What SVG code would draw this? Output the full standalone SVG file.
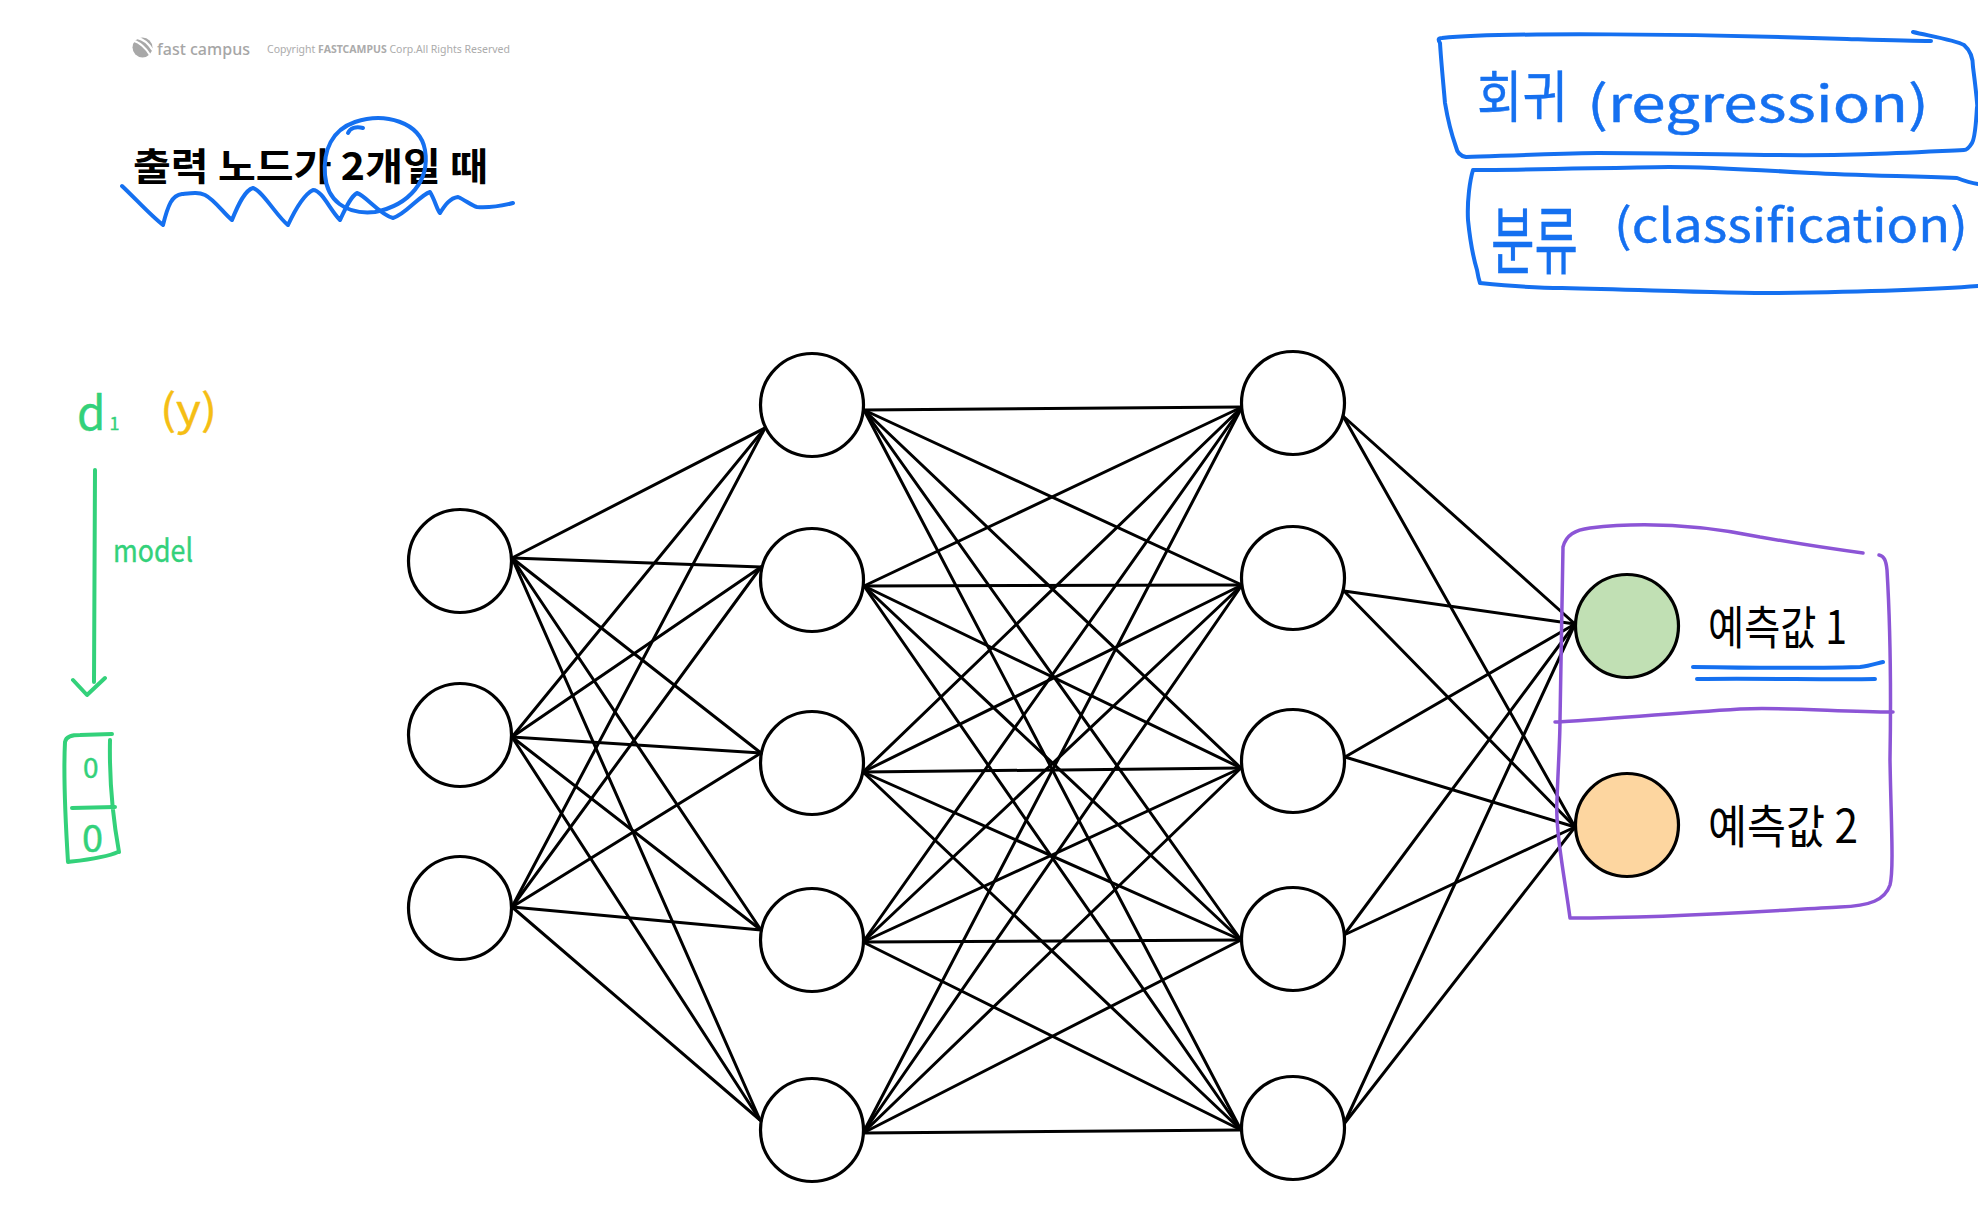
<svg xmlns="http://www.w3.org/2000/svg" width="1978" height="1220" viewBox="0 0 1978 1220">
<style>
.node{fill:#fff;stroke:#000;stroke-width:3.2}
.conn line{stroke:#000;stroke-width:3;stroke-linecap:round}
.hand{font-family:"Noto Sans CJK KR","Noto Sans",sans-serif;font-weight:400;stroke-width:0.4;stroke-linejoin:round}
.blue{fill:none;stroke:#1570f0;stroke-width:4;stroke-linecap:round;stroke-linejoin:round}
.purple{fill:none;stroke:#8c55d6;stroke-width:3.5;stroke-linecap:round;stroke-linejoin:round}
.green{fill:none;stroke:#33d17a;stroke-width:4;stroke-linecap:round;stroke-linejoin:round}
</style>
<rect width="1978" height="1220" fill="#fff"/>

<!-- header -->
<g id="logo">
  <circle cx="142.5" cy="47.5" r="10" fill="#a8a8a8"/>
  <path d="M134 41 C139 42,146 48,150 55" stroke="#fff" stroke-width="2.2" fill="none"/>
  <path d="M137 37.8 C143 39,149 44,152.5 50" stroke="#fff" stroke-width="2.2" fill="none"/>
  <text x="157" y="55" font-family="Noto Sans, sans-serif" font-size="17" font-weight="500" fill="#a6a6a6" textLength="93" lengthAdjust="spacingAndGlyphs">fast campus</text>
  <text x="267" y="53" font-family="Noto Sans, sans-serif" font-size="10.5" fill="#ababab" textLength="243" lengthAdjust="spacingAndGlyphs">Copyright <tspan font-weight="700">FASTCAMPUS</tspan> Corp.All Rights Reserved</text>
</g>

<g id="title">
  <text x="133" y="180" font-family="Noto Sans CJK KR, sans-serif" font-size="38" font-weight="700" fill="#000" textLength="355" lengthAdjust="spacingAndGlyphs">출력 노드가 2개일 때</text>
  <path class="blue" d="M122 186 C135 198,150 215,163 225 C168 205,172 195,182 194 C192 193,198 192,205 195 C215 200,225 215,232 220 C238 205,245 190,253 188 C262 190,278 218,288 225 C295 210,303 195,313 190 C322 190,330 210,340 220 C345 210,350 197,357 193 C365 195,380 215,393 218 C405 215,420 195,430 192 C435 200,437 210,440 213 C445 205,450 198,458 197 C465 200,472 206,477 207 C490 208,505 205,513 203"/>
  <path class="blue" d="M348 133 C350 128,356 126,363 128 M355 122 C385 112,420 122,425 150 C430 180,410 205,375 212 C345 215,327 200,325 175 C323 150,332 130,355 122"/>
</g>

<!-- top-right boxes -->
<g id="regression">
  <path class="blue" d="M1440 43 C1438 40,1438 38,1442 38 C1500 32,1700 34,1847 39 C1880 40,1910 41,1931 41 M1913 32 C1930 36,1955 40,1964 45 C1972 52,1973 60,1973 67 C1976 90,1978 110,1977 107 C1976 125,1975 138,1972 143 C1969 148,1966 150,1964 150 C1900 153,1850 156,1776 155 C1700 154,1650 153,1598 153 C1540 154,1500 156,1466 157 C1460 156,1457 152,1456 147 C1450 130,1447 115,1445 103 C1443 80,1441 60,1440 43"/>
  <text class="hand" x="1477" y="117" font-size="56" fill="#1570f0" stroke="#1570f0" textLength="91" lengthAdjust="spacingAndGlyphs">회귀</text>
  <text class="hand" x="1587" y="122" font-size="50" fill="#1570f0" stroke="#1570f0" textLength="342" lengthAdjust="spacingAndGlyphs">(regression)</text>
</g>
<g id="classification">
  <path class="blue" d="M1978 184 C1970 183,1962 180,1957 178 C1900 176,1850 175,1811 173 C1760 170,1700 167,1669 167 C1600 168,1520 170,1473 170 C1470 180,1467 200,1468 220 C1470 240,1474 260,1477 270 C1478 276,1479 280,1480 283 C1510 286,1540 288,1562 288 C1650 290,1720 293,1776 293 C1850 292,1930 290,1978 286"/>
  <text class="hand" x="1491" y="268" font-size="74" fill="#1570f0" stroke="#1570f0" textLength="87" lengthAdjust="spacingAndGlyphs">분류</text>
  <text class="hand" x="1614" y="242" font-size="46" fill="#1570f0" stroke="#1570f0" textLength="354" lengthAdjust="spacingAndGlyphs">(classification)</text>
</g>

<!-- left green annotations -->
<g id="data-label">
  <text class="hand" x="77" y="430" font-size="46" fill="#33d17a" stroke="#33d17a">d<tspan font-size="18" dx="4">1</tspan></text>
  <text class="hand" x="160" y="425" font-size="42" fill="#f5be14" stroke="#f5be14" textLength="57" lengthAdjust="spacingAndGlyphs">(y)</text>
</g>
<g id="model-arrow">
  <path class="green" d="M95 470 L94 682 M73 680 L87 695 L105 678"/>
  <text class="hand" x="113" y="562" font-size="32" fill="#33d17a" stroke="#33d17a" stroke-width="0.8" textLength="80" lengthAdjust="spacingAndGlyphs">model</text>
</g>
<g id="target-vector">
  <path class="green" d="M65 742 C66 736,72 735,80 735 L112 734 M110 740 C109 790,115 830,119 852 M65 742 C63 780,66 830,68 862 C85 860,105 858,118 852 M72 808 L115 807"/>
  <text class="hand" x="83" y="778" font-size="28" fill="#33d17a" stroke="#33d17a" stroke-width="1">0</text>
  <text class="hand" x="82" y="852" font-size="38" fill="#33d17a" stroke="#33d17a" stroke-width="1">0</text>
</g>

<!-- connectors -->
<g id="connectors" class="conn">
  <!-- input -> hidden1 -->
  <line x1="512" y1="558" x2="765" y2="428"/>
  <line x1="512" y1="558" x2="761" y2="567"/>
  <line x1="512" y1="558" x2="761" y2="753"/>
  <line x1="512" y1="558" x2="761" y2="930"/>
  <line x1="512" y1="558" x2="760" y2="1120"/>
  <line x1="512" y1="737" x2="765" y2="428"/>
  <line x1="512" y1="737" x2="761" y2="567"/>
  <line x1="512" y1="737" x2="761" y2="753"/>
  <line x1="512" y1="737" x2="761" y2="930"/>
  <line x1="512" y1="737" x2="760" y2="1120"/>
  <line x1="512" y1="907" x2="765" y2="428"/>
  <line x1="512" y1="907" x2="761" y2="567"/>
  <line x1="512" y1="907" x2="761" y2="753"/>
  <line x1="512" y1="907" x2="761" y2="930"/>
  <line x1="512" y1="907" x2="760" y2="1120"/>
  <!-- hidden1 -> hidden2 -->
  <line x1="864" y1="410" x2="1242" y2="407"/>
  <line x1="864" y1="410" x2="1242" y2="585"/>
  <line x1="864" y1="410" x2="1241" y2="768"/>
  <line x1="864" y1="410" x2="1241" y2="940"/>
  <line x1="864" y1="410" x2="1241" y2="1130"/>
  <line x1="864" y1="586" x2="1242" y2="407"/>
  <line x1="864" y1="586" x2="1242" y2="585"/>
  <line x1="864" y1="586" x2="1241" y2="768"/>
  <line x1="864" y1="586" x2="1241" y2="940"/>
  <line x1="864" y1="586" x2="1241" y2="1130"/>
  <line x1="863" y1="772" x2="1242" y2="407"/>
  <line x1="863" y1="772" x2="1242" y2="585"/>
  <line x1="863" y1="772" x2="1241" y2="768"/>
  <line x1="863" y1="772" x2="1241" y2="940"/>
  <line x1="863" y1="772" x2="1241" y2="1130"/>
  <line x1="863" y1="942" x2="1242" y2="407"/>
  <line x1="863" y1="942" x2="1242" y2="585"/>
  <line x1="863" y1="942" x2="1241" y2="768"/>
  <line x1="863" y1="942" x2="1241" y2="940"/>
  <line x1="863" y1="942" x2="1241" y2="1130"/>
  <line x1="863" y1="1133" x2="1242" y2="407"/>
  <line x1="863" y1="1133" x2="1242" y2="585"/>
  <line x1="863" y1="1133" x2="1241" y2="768"/>
  <line x1="863" y1="1133" x2="1241" y2="940"/>
  <line x1="863" y1="1133" x2="1241" y2="1130"/>
  <!-- hidden2 -> output -->
  <line x1="1343" y1="416" x2="1575" y2="624"/>
  <line x1="1343" y1="416" x2="1575" y2="827"/>
  <line x1="1344" y1="591" x2="1575" y2="624"/>
  <line x1="1344" y1="591" x2="1575" y2="827"/>
  <line x1="1345" y1="757" x2="1575" y2="624"/>
  <line x1="1345" y1="757" x2="1575" y2="827"/>
  <line x1="1344" y1="935" x2="1575" y2="624"/>
  <line x1="1344" y1="935" x2="1575" y2="827"/>
  <line x1="1344" y1="1124" x2="1575" y2="624"/>
  <line x1="1344" y1="1124" x2="1575" y2="827"/>
</g>

<!-- nodes -->
<g id="input-1"><circle class="node" cx="460" cy="561" r="51.5"/></g>
<g id="input-2"><circle class="node" cx="460" cy="735" r="51.5"/></g>
<g id="input-3"><circle class="node" cx="460" cy="908" r="51.5"/></g>

<g id="hidden1-1"><circle class="node" cx="812" cy="405" r="51.5"/></g>
<g id="hidden1-2"><circle class="node" cx="812" cy="580" r="51.5"/></g>
<g id="hidden1-3"><circle class="node" cx="812" cy="763" r="51.5"/></g>
<g id="hidden1-4"><circle class="node" cx="812" cy="940" r="51.5"/></g>
<g id="hidden1-5"><circle class="node" cx="812" cy="1130" r="51.5"/></g>

<g id="hidden2-1"><circle class="node" cx="1293" cy="403" r="51.5"/></g>
<g id="hidden2-2"><circle class="node" cx="1293" cy="578" r="51.5"/></g>
<g id="hidden2-3"><circle class="node" cx="1293" cy="761" r="51.5"/></g>
<g id="hidden2-4"><circle class="node" cx="1293" cy="939" r="51.5"/></g>
<g id="hidden2-5"><circle class="node" cx="1293" cy="1128" r="51.5"/></g>

<g id="output-group">
  <path class="purple" d="M1563 547 C1566 535,1575 530,1590 528 C1640 522,1700 525,1760 537 C1800 544,1840 550,1863 553 M1879 555 C1884 556,1886 560,1887 570 C1890 620,1891 700,1890 760 C1891 820,1894 870,1890 885 C1885 900,1870 906,1840 907 C1780 910,1680 918,1570 918 C1565 880,1555 830,1557 800 C1558 770,1560 740,1560 720 C1561 650,1562 580,1563 547 M1555 722 C1600 720,1660 714,1740 709 C1790 707,1840 712,1893 712"/>
</g>
<g id="output-1">
  <circle class="node" cx="1627" cy="626" r="51.5" style="fill:#c1e0b4"/>
  <text class="hand" x="1708" y="644" font-size="46" fill="#000" textLength="139" lengthAdjust="spacingAndGlyphs">예측값 1</text>
  <path class="blue" d="M1693 667 C1750 668,1820 668,1860 667 C1870 666,1878 663,1883 662 M1697 679 C1760 678,1830 680,1875 679"/>
</g>
<g id="output-2">
  <circle class="node" cx="1627" cy="825" r="51.5" style="fill:#fdd6a0"/>
  <text class="hand" x="1708" y="843" font-size="46" fill="#000" textLength="150" lengthAdjust="spacingAndGlyphs">예측값 2</text>
</g>
</svg>
